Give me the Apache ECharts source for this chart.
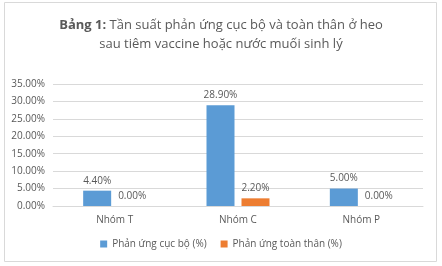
<!DOCTYPE html>
<html><head><meta charset="utf-8">
<script src="https://cdn.jsdelivr.net/npm/echarts@6/dist/echarts.min.js"></script>
<style>html,body{margin:0;padding:0;background:#fff}#c{width:442px;height:266px}</style>
</head><body><div id="c"></div>
<script>
const categories = ['Nhóm T', 'Nhóm C', 'Nhóm P'];
const localReaction = [4.4, 28.9, 5.0];
const systemicReaction = [0.0, 2.2, 0.0];
const seriesNames = ['Phản ứng cục bộ (%)', 'Phản ứng toàn thân (%)'];
const yTicks = {min: 0, max: 35, interval: 5};

const FONT = '"Open Sans", "Noto Sans", sans-serif';
const TXT = '#595959';
const chart = echarts.init(document.getElementById('c'), null, {renderer: 'canvas'});
const lbl = {show: true, position: 'top', distance: 5, color: TXT, fontSize: 10, fontFamily: FONT,
  formatter: p => p.value.toFixed(2) + '%'};
chart.setOption({
  animation: false,
  textStyle: {fontFamily: FONT},
  graphic: [{type: 'rect', shape: {x: 4.5, y: 2.5, width: 432, height: 259},
    style: {fill: 'none', stroke: '#d9d9d9', lineWidth: 1}, silent: true}],
  title: {
    text: '{b|Bảng 1:} Tần suất phản ứng cục bộ và toàn thân ở heo\nsau tiêm vaccine hoặc nước muối sinh lý',
    left: 'center', top: 11,
    textStyle: {fontSize: 13, fontWeight: 'normal', color: TXT, fontFamily: FONT, lineHeight: 19,
      rich: {b: {fontWeight: 'bold', fontSize: 13, color: TXT, fontFamily: FONT, lineHeight: 19}}}
  },
  grid: {left: 53, right: 19, top: 84, bottom: 60},
  legend: {
    bottom: 12, left: 'center', itemWidth: 7, itemHeight: 7, itemGap: 14, icon: 'rect',
    textStyle: {color: TXT, fontSize: 10, fontFamily: FONT},
    data: seriesNames
  },
  xAxis: {
    type: 'category', data: categories,
    axisLine: {lineStyle: {color: '#d9d9d9'}}, axisTick: {show: false},
    axisLabel: {color: TXT, fontSize: 10, fontFamily: FONT, margin: 9}
  },
  yAxis: {
    type: 'value', min: yTicks.min, max: yTicks.max, interval: yTicks.interval,
    axisLine: {show: false}, axisTick: {show: false},
    splitLine: {lineStyle: {color: '#d9d9d9'}},
    axisLabel: {color: TXT, fontSize: 10, fontFamily: FONT, margin: 8, formatter: v => v.toFixed(2) + '%'}
  },
  series: [
    {name: seriesNames[0], type: 'bar', data: localReaction, barWidth: 28, barGap: '25%',
     itemStyle: {color: '#5b9bd5'}, label: lbl},
    {name: seriesNames[1], type: 'bar', data: systemicReaction, barWidth: 28,
     itemStyle: {color: '#ed7d31'}, label: lbl}
  ]
});
</script></body></html>
